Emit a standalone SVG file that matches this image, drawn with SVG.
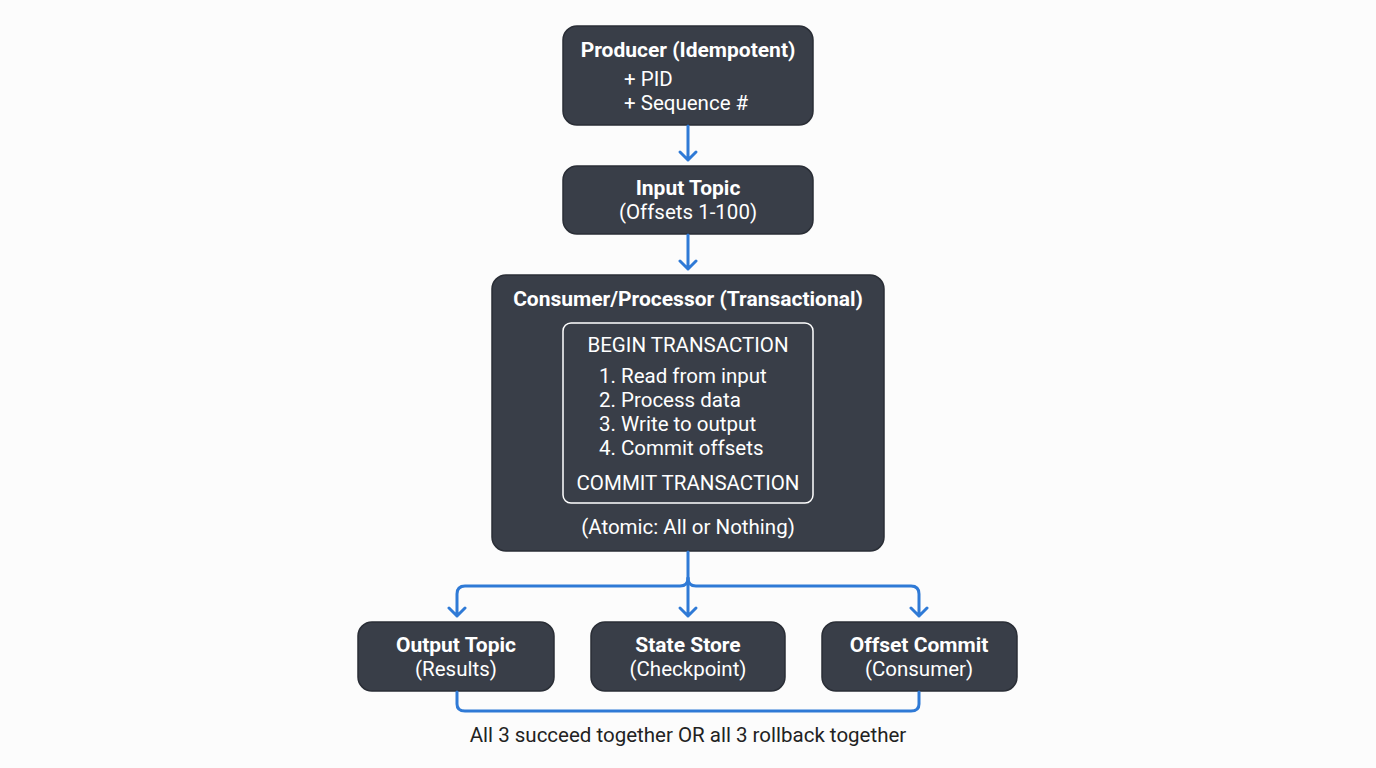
<svg xmlns="http://www.w3.org/2000/svg" width="1376" height="768" viewBox="0 0 1376 768">
<style>
.n{fill:#393e48;stroke:#2a2e36;stroke-width:1.5}
.t{font-family:Roboto,"Liberation Sans",sans-serif;fill:#fff;font-size:20.5px}
.b{font-weight:bold;font-size:21px}
.c{fill:none;stroke:#2f7ad6;stroke-width:3;stroke-linecap:round;stroke-linejoin:round}
</style>
<rect width="1376" height="768" fill="#fcfcfc"/>
<g id="producer"><rect class="n" x="563" y="26" width="250" height="99" rx="14"/>
<text class="t b" x="688" y="57" text-anchor="middle">Producer (Idempotent)</text>
<text class="t" x="624" y="86">+ PID</text>
<text class="t" x="624" y="110">+ Sequence #</text></g>
<g id="input"><rect class="n" x="563" y="166" width="250" height="68" rx="14"/>
<text class="t b" x="688" y="195" text-anchor="middle">Input Topic</text>
<text class="t" x="688" y="219" text-anchor="middle">(Offsets 1-100)</text></g>
<g id="consumer"><rect class="n" x="492" y="275" width="392" height="276" rx="14"/>
<text class="t b" x="688" y="306" text-anchor="middle">Consumer/Processor (Transactional)</text>
<rect x="563" y="323" width="250" height="180" rx="8" fill="none" stroke="#fff" stroke-width="1.5"/>
<text class="t" x="688" y="352" text-anchor="middle">BEGIN TRANSACTION</text>
<text class="t" x="599" y="383">1. Read from input</text>
<text class="t" x="599" y="407">2. Process data</text>
<text class="t" x="599" y="431">3. Write to output</text>
<text class="t" x="599" y="455">4. Commit offsets</text>
<text class="t" x="688" y="490" text-anchor="middle">COMMIT TRANSACTION</text>
<text class="t" x="688" y="534" text-anchor="middle">(Atomic: All or Nothing)</text></g>
<g id="output"><rect class="n" x="358" y="622" width="196" height="69" rx="14"/>
<text class="t b" x="456" y="652" text-anchor="middle">Output Topic</text>
<text class="t" x="456" y="676" text-anchor="middle">(Results)</text></g>
<g id="state"><rect class="n" x="591" y="622" width="194" height="69" rx="14"/>
<text class="t b" x="688" y="652" text-anchor="middle">State Store</text>
<text class="t" x="688" y="676" text-anchor="middle">(Checkpoint)</text></g>
<g id="offset"><rect class="n" x="822" y="622" width="195" height="69" rx="14"/>
<text class="t b" x="919" y="652" text-anchor="middle">Offset Commit</text>
<text class="t" x="919" y="676" text-anchor="middle">(Consumer)</text></g>
<g id="connectors">
<path class="c" d="M688 126V160M680 152L688 160L696 152"/>
<path class="c" d="M688 235V269M680 261L688 269L696 261"/>
<path class="c" d="M688 552V616M680 608L688 616L696 608"/>
<path class="c" d="M688 578Q688 586 680 586H465Q457 586 457 594V616M449 608L457 616L465 608"/>
<path class="c" d="M688 578Q688 586 696 586H911Q919 586 919 594V616M911 608L919 616L927 608"/>
<path class="c" d="M457 692V704Q457 711 465 711H911Q919 711 919 704V692"/>
</g>
<text x="688" y="742" text-anchor="middle" font-family="Roboto,'Liberation Sans',sans-serif" font-size="20.5" fill="#222">All 3 succeed together OR all 3 rollback together</text>
</svg>
